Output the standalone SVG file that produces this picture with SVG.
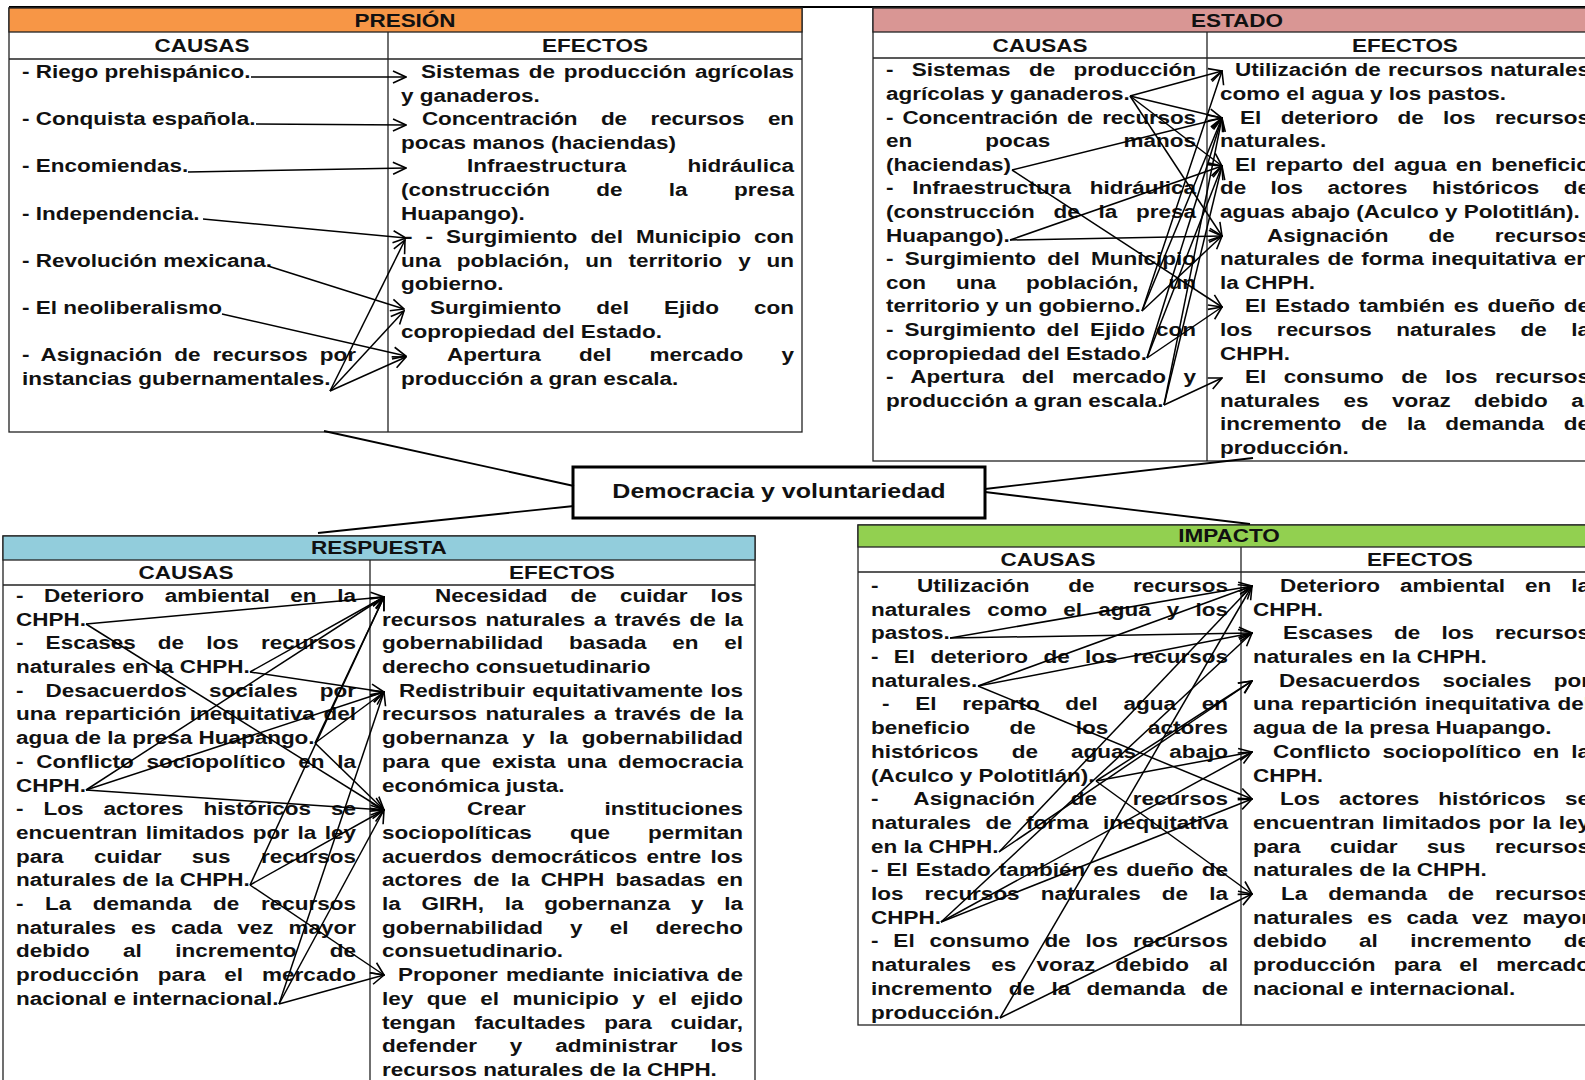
<svg xmlns="http://www.w3.org/2000/svg" width="1585" height="1080" viewBox="0 0 1585 1080">
<defs>
<style>
.t{font-family:"Liberation Sans",Arial,sans-serif;font-weight:bold;font-size:18px;fill:#111}
.m{text-anchor:middle}
.fr{fill:#fff;stroke:#222;stroke-width:1.3}
.ln{stroke:#222;stroke-width:1.3;fill:none}
.a{fill:none;stroke:#000;stroke-width:1.5;marker-end:url(#ah)}
.c{fill:none;stroke:#000;stroke-width:1.8}
</style>
<marker id="ah" viewBox="0 0 16 16" refX="15" refY="8" markerWidth="16" markerHeight="16" markerUnits="userSpaceOnUse" orient="auto"><path d="M2,2 L15,8 L2,14" fill="none" stroke="#000" stroke-width="1.6"/></marker>
</defs>
<rect width="1585" height="1080" fill="#fff"/>
<line x1="9" y1="7" x2="1585" y2="7" stroke="#000" stroke-width="2"/>

<g id="presion">
<rect class="fr" x="9" y="8" width="793" height="424"/>
<rect x="9" y="8" width="793" height="24" fill="#F79646" stroke="#222" stroke-width="1.3"/>
<line class="ln" x1="9" y1="59" x2="802" y2="59"/>
<line class="ln" x1="388" y1="32" x2="388" y2="432"/>
<g class="t" transform="scale(1.25 1)">
<text class="m" x="324" y="27">PRESIÓN</text>
<text class="m" x="161.6" y="52">CAUSAS</text>
<text class="m" x="476" y="52">EFECTOS</text>
<text x="17.6" y="78">- Riego prehispánico.</text>
<text x="17.6" y="125.2">- Conquista española.</text>
<text x="17.6" y="172.4">- Encomiendas.</text>
<text x="17.6" y="219.6">- Independencia.</text>
<text x="17.6" y="266.8">- Revolución mexicana.</text>
<text x="17.6" y="314">- El neoliberalismo</text>
<text x="17.6" y="361.2" word-spacing="4.5" textLength="267.2" lengthAdjust="spacing">- Asignación de recursos por</text>
<text x="17.6" y="384.8">instancias gubernamentales.</text>
<text x="336.8" y="78" word-spacing="2" textLength="298.4" lengthAdjust="spacing">Sistemas de producción agrícolas</text>
<text x="320.8" y="101.6">y ganaderos.</text>
<text x="337.6" y="125.2" word-spacing="14" textLength="297.6" lengthAdjust="spacing">Concentración de recursos en</text>
<text x="320.8" y="148.8">pocas manos (haciendas)</text>
<text x="373.6" y="172.4" word-spacing="44" textLength="261.6" lengthAdjust="spacing">Infraestructura hidráulica</text>
<text x="320.8" y="196" word-spacing="32" textLength="314.4" lengthAdjust="spacing">(construcción de la presa</text>
<text x="320.8" y="219.6">Huapango).</text>
<text x="324" y="243.2" word-spacing="5.4" textLength="311.2" lengthAdjust="spacing">- - Surgimiento del Municipio con</text>
<text x="320.8" y="266.8" word-spacing="7.7" textLength="314.4" lengthAdjust="spacing">una población, un territorio y un</text>
<text x="320.8" y="290.4">gobierno.</text>
<text x="344" y="314" word-spacing="23" textLength="291.2" lengthAdjust="spacing">Surgimiento del Ejido con</text>
<text x="320.8" y="337.6">copropiedad del Estado.</text>
<text x="357.6" y="361.2" word-spacing="25.5" textLength="277.6" lengthAdjust="spacing">Apertura del mercado y</text>
<text x="320.8" y="384.8">producción a gran escala.</text>
</g>
</g>

<g id="estado">
<rect class="fr" x="873" y="8" width="730" height="453"/>
<rect x="873" y="8" width="730" height="24" fill="#D99694" stroke="#222" stroke-width="1.3"/>
<line class="ln" x1="873" y1="58" x2="1603" y2="58"/>
<line class="ln" x1="1207" y1="32" x2="1207" y2="461"/>
<g class="t" transform="scale(1.25 1)">
<text class="m" x="989.6" y="27">ESTADO</text>
<text class="m" x="832" y="52">CAUSAS</text>
<text class="m" x="1124" y="52">EFECTOS</text>
<text x="708.8" y="76.5" word-spacing="9.7" textLength="248" lengthAdjust="spacing">- Sistemas de producción</text>
<text x="708.8" y="100.1">agrícolas y ganaderos.</text>
<text x="708.8" y="123.7" word-spacing="2.5" textLength="248" lengthAdjust="spacing">- Concentración de recursos</text>
<text x="708.8" y="147.3" word-spacing="53.5" textLength="248" lengthAdjust="spacing">en pocas manos</text>
<text x="708.8" y="170.9">(haciendas)</text>
<text x="708.8" y="194.5" word-spacing="10" textLength="248" lengthAdjust="spacing">- Infraestructura hidráulica</text>
<text x="708.8" y="218.1" word-spacing="10" textLength="248" lengthAdjust="spacing">(construcción de la presa</text>
<text x="708.8" y="241.7">Huapango).</text>
<text x="708.8" y="265.3" word-spacing="4" textLength="248" lengthAdjust="spacing">- Surgimiento del Municipio</text>
<text x="708.8" y="288.9" word-spacing="19" textLength="248" lengthAdjust="spacing">con una población, un</text>
<text x="708.8" y="312.5">territorio y un gobierno.</text>
<text x="708.8" y="336.1" word-spacing="3.7" textLength="248" lengthAdjust="spacing">- Surgimiento del Ejido con</text>
<text x="708.8" y="359.7">copropiedad del Estado.</text>
<text x="708.8" y="383.3" word-spacing="9" textLength="248" lengthAdjust="spacing">- Apertura del mercado y</text>
<text x="708.8" y="406.9">producción a gran escala.</text>
<text x="988" y="76.5" word-spacing="0.7" textLength="284" lengthAdjust="spacing">Utilización de recursos naturales</text>
<text x="976" y="100.1">como el agua y los pastos.</text>
<text x="992" y="123.7" word-spacing="10.5" textLength="280" lengthAdjust="spacing">El deterioro de los recursos</text>
<text x="976" y="147.3">naturales.</text>
<text x="988" y="170.9" word-spacing="2.4" textLength="284" lengthAdjust="spacing">El reparto del agua en beneficio</text>
<text x="976" y="194.5" word-spacing="14.5" textLength="296" lengthAdjust="spacing">de los actores históricos de</text>
<text x="976" y="218.1">aguas abajo (Aculco y Polotitlán).</text>
<text x="1013.6" y="241.7" word-spacing="27" textLength="258.4" lengthAdjust="spacing">Asignación de recursos</text>
<text x="976" y="265.3" word-spacing="1" textLength="296" lengthAdjust="spacing">naturales de forma inequitativa en</text>
<text x="976" y="288.9">la CHPH.</text>
<text x="996" y="312.5" word-spacing="2" textLength="276" lengthAdjust="spacing">El Estado también es dueño de</text>
<text x="976" y="336.1" word-spacing="14.5" textLength="296" lengthAdjust="spacing">los recursos naturales de la</text>
<text x="976" y="359.7">CHPH.</text>
<text x="996" y="383.3" word-spacing="9" textLength="276" lengthAdjust="spacing">El consumo de los recursos</text>
<text x="976" y="406.9" word-spacing="13.7" textLength="296" lengthAdjust="spacing">naturales es voraz debido al</text>
<text x="976" y="430.5" word-spacing="10.7" textLength="296" lengthAdjust="spacing">incremento de la demanda de</text>
<text x="976" y="454.1">producción.</text>
</g>
</g>

<g id="respuesta">
<rect class="fr" x="3" y="536" width="752" height="560"/>
<rect x="3" y="536" width="752" height="24" fill="#92CDDC" stroke="#222" stroke-width="1.3"/>
<line class="ln" x1="3" y1="585" x2="755" y2="585"/>
<line class="ln" x1="370" y1="560" x2="370" y2="1096"/>
<g class="t" transform="scale(1.25 1)">
<text class="m" x="303.2" y="554">RESPUESTA</text>
<text class="m" x="148.8" y="579">CAUSAS</text>
<text class="m" x="449.6" y="579">EFECTOS</text>
<text x="12.8" y="602" word-spacing="11.5" textLength="272" lengthAdjust="spacing">- Deterioro ambiental en la</text>
<text x="12.8" y="625.7">CHPH.</text>
<text x="12.8" y="649.4" word-spacing="12.7" textLength="272" lengthAdjust="spacing">- Escases de los recursos</text>
<text x="12.8" y="673.1">naturales en la CHPH.</text>
<text x="12.8" y="696.8" word-spacing="12.7" textLength="272" lengthAdjust="spacing">- Desacuerdos sociales por</text>
<text x="12.8" y="720.5" word-spacing="2" textLength="272" lengthAdjust="spacing">una repartición inequitativa del</text>
<text x="12.8" y="744.2">agua de la presa Huapango.</text>
<text x="12.8" y="767.9" word-spacing="5.2" textLength="272" lengthAdjust="spacing">- Conflicto sociopolítico en la</text>
<text x="12.8" y="791.6">CHPH.</text>
<text x="12.8" y="815.3" word-spacing="11" textLength="272" lengthAdjust="spacing">- Los actores históricos se</text>
<text x="12.8" y="839" word-spacing="1.7" textLength="272" lengthAdjust="spacing">encuentran limitados por la ley</text>
<text x="12.8" y="862.7" word-spacing="19.3" textLength="272" lengthAdjust="spacing">para cuidar sus recursos</text>
<text x="12.8" y="886.4">naturales de la CHPH.</text>
<text x="12.8" y="910.1" word-spacing="12.2" textLength="272" lengthAdjust="spacing">- La demanda de recursos</text>
<text x="12.8" y="933.8" word-spacing="7" textLength="272" lengthAdjust="spacing">naturales es cada vez mayor</text>
<text x="12.8" y="957.5" word-spacing="21.7" textLength="272" lengthAdjust="spacing">debido al incremento de</text>
<text x="12.8" y="981.2" word-spacing="10" textLength="272" lengthAdjust="spacing">producción para el mercado</text>
<text x="12.8" y="1004.9">nacional e internacional.</text>
<text x="348" y="602" word-spacing="13.4" textLength="246.4" lengthAdjust="spacing">Necesidad de cuidar los</text>
<text x="305.6" y="625.7" word-spacing="1.8" textLength="288.8" lengthAdjust="spacing">recursos naturales a través de la</text>
<text x="305.6" y="649.4" word-spacing="15.6" textLength="288.8" lengthAdjust="spacing">gobernabilidad basada en el</text>
<text x="305.6" y="673.1">derecho consuetudinario</text>
<text x="319.2" y="696.8" word-spacing="1" textLength="275.2" lengthAdjust="spacing">Redistribuir equitativamente los</text>
<text x="305.6" y="720.5" word-spacing="1.8" textLength="288.8" lengthAdjust="spacing">recursos naturales a través de la</text>
<text x="305.6" y="744.2" word-spacing="6.3" textLength="288.8" lengthAdjust="spacing">gobernanza y la gobernabilidad</text>
<text x="305.6" y="767.9" word-spacing="4" textLength="288.8" lengthAdjust="spacing">para que exista una democracia</text>
<text x="305.6" y="791.6">económica justa.</text>
<text x="373.6" y="815.3" word-spacing="58" textLength="220.8" lengthAdjust="spacing">Crear instituciones</text>
<text x="305.6" y="839" word-spacing="25.5" textLength="288.8" lengthAdjust="spacing">sociopolíticas que permitan</text>
<text x="305.6" y="862.7" word-spacing="2.3" textLength="288.8" lengthAdjust="spacing">acuerdos democráticos entre los</text>
<text x="305.6" y="886.4" word-spacing="4" textLength="288.8" lengthAdjust="spacing">actores de la CHPH basadas en</text>
<text x="305.6" y="910.1" word-spacing="11.6" textLength="288.8" lengthAdjust="spacing">la GIRH, la gobernanza y la</text>
<text x="305.6" y="933.8" word-spacing="16.7" textLength="288.8" lengthAdjust="spacing">gobernabilidad y el derecho</text>
<text x="305.6" y="957.5">consuetudinario.</text>
<text x="318.4" y="981.2" word-spacing="1.7" textLength="276" lengthAdjust="spacing">Proponer mediante iniciativa de</text>
<text x="305.6" y="1004.9" word-spacing="5.8" textLength="288.8" lengthAdjust="spacing">ley que el municipio y el ejido</text>
<text x="305.6" y="1028.6" word-spacing="10" textLength="288.8" lengthAdjust="spacing">tengan facultades para cuidar,</text>
<text x="305.6" y="1052.3" word-spacing="21.3" textLength="288.8" lengthAdjust="spacing">defender y administrar los</text>
<text x="305.6" y="1076">recursos naturales de la CHPH.</text>
</g>
</g>

<g id="impacto">
<rect class="fr" x="858" y="525" width="745" height="500"/>
<rect x="858" y="525" width="745" height="22" fill="#92D050" stroke="#222" stroke-width="1.3"/>
<line class="ln" x1="858" y1="572" x2="1603" y2="572"/>
<line class="ln" x1="1241" y1="547" x2="1241" y2="1025"/>
<g class="t" transform="scale(1.25 1)">
<text class="m" x="983.2" y="542.5">IMPACTO</text>
<text class="m" x="838.4" y="566.5">CAUSAS</text>
<text class="m" x="1136" y="566.5">EFECTOS</text>
<text x="696.8" y="592" word-spacing="25.9" textLength="285.6" lengthAdjust="spacing">- Utilización de recursos</text>
<text x="696.8" y="615.7" word-spacing="7.9" textLength="285.6" lengthAdjust="spacing">naturales como el agua y los</text>
<text x="696.8" y="639.4">pastos.</text>
<text x="696.8" y="663.1" word-spacing="7.3" textLength="285.6" lengthAdjust="spacing">- El deterioro de los recursos</text>
<text x="696.8" y="686.8">naturales.</text>
<text x="705.6" y="710.5" word-spacing="15.6" textLength="276.8" lengthAdjust="spacing">- El reparto del agua en</text>
<text x="696.8" y="734.2" word-spacing="26.9" textLength="285.6" lengthAdjust="spacing">beneficio de los actores</text>
<text x="696.8" y="757.9" word-spacing="21.5" textLength="285.6" lengthAdjust="spacing">históricos de aguas abajo</text>
<text x="696.8" y="781.6">(Aculco y Polotitlán).</text>
<text x="696.8" y="805.3" word-spacing="23.5" textLength="285.6" lengthAdjust="spacing">- Asignación de recursos</text>
<text x="696.8" y="829" word-spacing="6.5" textLength="285.6" lengthAdjust="spacing">naturales de forma inequitativa</text>
<text x="696.8" y="852.7">en la CHPH.</text>
<text x="696.8" y="876.4" word-spacing="1.4" textLength="285.6" lengthAdjust="spacing">- El Estado también es dueño de</text>
<text x="696.8" y="900.1" word-spacing="11.9" textLength="285.6" lengthAdjust="spacing">los recursos naturales de la</text>
<text x="696.8" y="923.8">CHPH.</text>
<text x="696.8" y="947.5" word-spacing="6.9" textLength="285.6" lengthAdjust="spacing">- El consumo de los recursos</text>
<text x="696.8" y="971.2" word-spacing="11.1" textLength="285.6" lengthAdjust="spacing">naturales es voraz debido al</text>
<text x="696.8" y="994.9" word-spacing="8.1" textLength="285.6" lengthAdjust="spacing">incremento de la demanda de</text>
<text x="696.8" y="1018.6">producción.</text>
<text x="1024" y="592" word-spacing="11" textLength="248" lengthAdjust="spacing">Deterioro ambiental en la</text>
<text x="1002.4" y="615.7">CHPH.</text>
<text x="1026.4" y="639.4" word-spacing="11.9" textLength="245.6" lengthAdjust="spacing">Escases de los recursos</text>
<text x="1002.4" y="663.1">naturales en la CHPH.</text>
<text x="1023.2" y="686.8" word-spacing="12.9" textLength="248.8" lengthAdjust="spacing">Desacuerdos sociales por</text>
<text x="1002.4" y="710.5" word-spacing="1.2" textLength="269.6" lengthAdjust="spacing">una repartición inequitativa del</text>
<text x="1002.4" y="734.2">agua de la presa Huapango.</text>
<text x="1018.4" y="757.9" word-spacing="4.5" textLength="253.6" lengthAdjust="spacing">Conflicto sociopolítico en la</text>
<text x="1002.4" y="781.6">CHPH.</text>
<text x="1024" y="805.3" word-spacing="10.3" textLength="248" lengthAdjust="spacing">Los actores históricos se</text>
<text x="1002.4" y="829" word-spacing="1" textLength="269.6" lengthAdjust="spacing">encuentran limitados por la ley</text>
<text x="1002.4" y="852.7" word-spacing="18.5" textLength="269.6" lengthAdjust="spacing">para cuidar sus recursos</text>
<text x="1002.4" y="876.4">naturales de la CHPH.</text>
<text x="1024.8" y="900.1" word-spacing="11.7" textLength="247.2" lengthAdjust="spacing">La demanda de recursos</text>
<text x="1002.4" y="923.8" word-spacing="6.4" textLength="269.6" lengthAdjust="spacing">naturales es cada vez mayor</text>
<text x="1002.4" y="947.5" word-spacing="20.9" textLength="269.6" lengthAdjust="spacing">debido al incremento de</text>
<text x="1002.4" y="971.2" word-spacing="9.5" textLength="269.6" lengthAdjust="spacing">producción para el mercado</text>
<text x="1002.4" y="994.9">nacional e internacional.</text>
</g>
</g>

<g id="centro">
<rect x="573" y="467" width="412" height="51" fill="#fff" stroke="#000" stroke-width="3"/>
<text class="t m" transform="scale(1.25 1)" x="623.2" y="498" style="font-size:20px">Democracia y voluntariedad</text>
</g>

<g id="connectors">
<path class="c" d="M324,431 L574,486"/>
<path class="c" d="M318,533 L574,506"/>
<path class="c" d="M985,489 L1253,458"/>
<path class="c" d="M985,492 L1250,524"/>

<path class="a" d="M251,77 L406,77"/>
<path class="a" d="M256,124 L406,125"/>
<path class="a" d="M188,172 L406,168"/>
<path class="a" d="M203,219 L406,238"/>
<path class="a" d="M268,266 L404,309"/>
<path class="a" d="M222,314 L406,356"/>
<path class="a" d="M330,391 L405,240"/>
<path class="a" d="M330,391 L404,311"/>
<path class="a" d="M330,391 L406,357"/>

<path class="a" d="M1130,96 L1222,71"/>
<path class="a" d="M1130,96 L1222,118"/>
<path class="a" d="M1130,96 L1222,166"/>
<path class="a" d="M1130,96 L1222,236"/>
<path class="a" d="M1012,170 L1222,118"/>
<path class="a" d="M1012,170 L1222,307"/>
<path class="a" d="M1010,240 L1222,166"/>
<path class="a" d="M1010,240 L1222,236"/>
<path class="a" d="M1142,311 L1222,71"/>
<path class="a" d="M1142,311 L1222,118"/>
<path class="a" d="M1142,311 L1222,236"/>
<path class="a" d="M1147,358 L1222,118"/>
<path class="a" d="M1147,358 L1222,166"/>
<path class="a" d="M1147,358 L1222,307"/>
<path class="a" d="M1164,405 L1222,118"/>
<path class="a" d="M1164,405 L1222,166"/>
<path class="a" d="M1164,405 L1222,378"/>

<path class="a" d="M86,624 L384,597"/>
<path class="a" d="M86,624 L384,810"/>
<path class="a" d="M250,672 L384,597"/>
<path class="a" d="M250,672 L384,692"/>
<path class="a" d="M315,743 L384,597"/>
<path class="a" d="M315,743 L384,692"/>
<path class="a" d="M315,743 L384,810"/>
<path class="a" d="M86,790 L384,597"/>
<path class="a" d="M86,790 L384,692"/>
<path class="a" d="M86,790 L384,810"/>
<path class="a" d="M250,885 L384,597"/>
<path class="a" d="M250,885 L384,810"/>
<path class="a" d="M250,885 L384,975"/>
<path class="a" d="M279,1004 L384,692"/>
<path class="a" d="M279,1004 L384,810"/>
<path class="a" d="M279,1004 L384,975"/>

<path class="a" d="M950,638 L1252,586"/>
<path class="a" d="M950,638 L1252,633"/>
<path class="a" d="M978,686 L1252,586"/>
<path class="a" d="M978,686 L1252,633"/>
<path class="a" d="M978,686 L1252,799"/>
<path class="a" d="M1096,781 L1252,681"/>
<path class="a" d="M1096,781 L1252,752"/>
<path class="a" d="M1096,781 L1252,894"/>
<path class="a" d="M999,852 L1252,586"/>
<path class="a" d="M999,852 L1252,681"/>
<path class="a" d="M941,922 L1252,633"/>
<path class="a" d="M941,922 L1252,752"/>
<path class="a" d="M941,922 L1252,799"/>
<path class="a" d="M1000,1018 L1252,586"/>
<path class="a" d="M1000,1018 L1252,894"/>
</g>
</svg>
